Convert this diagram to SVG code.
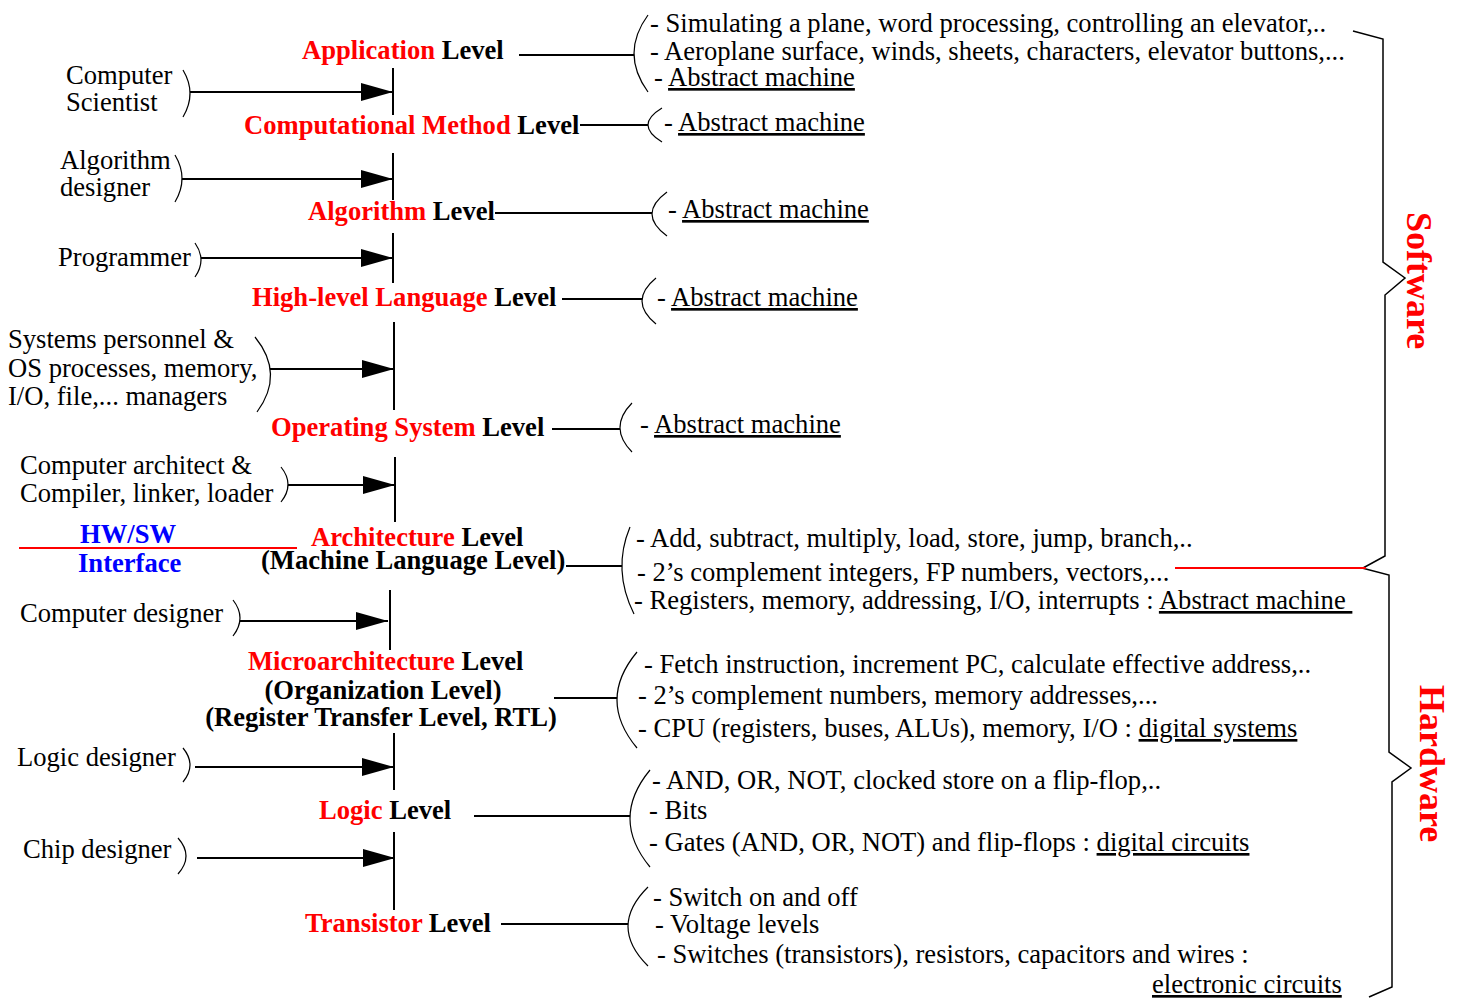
<svg xmlns="http://www.w3.org/2000/svg" width="1458" height="998" viewBox="0 0 1458 998">
  <style>
    text { font-family: "Liberation Serif", "Times New Roman", serif; font-size: 26.6px; fill: #000; }
    .lvl { font-weight: bold; }
    .red { fill: #ff0000; }
    .blue { fill: #0000ff; font-weight: bold; }
    .side { font-weight: bold; font-size: 36px; fill: #ff0000; }
    .u { text-decoration: underline; }
    .wire { stroke: #000; stroke-width: 2; fill: none; }
    .bar { stroke: #000; stroke-width: 2; fill: none; }
    .arrow { stroke: #000; stroke-width: 2.2; fill: none; marker-end: url(#head); }
    .paren { stroke: #000; stroke-width: 1.2; fill: none; }
    .brace { stroke: #000; stroke-width: 1.5; fill: none; }
    .redline { stroke: #ff0000; stroke-width: 2; fill: none; }
  </style>
  <defs>
    <marker id="head" markerUnits="userSpaceOnUse" markerWidth="32" markerHeight="18" refX="32" refY="9" orient="auto">
      <path d="M0,0 L32,9 L0,18 Z" fill="#000"/>
    </marker>
  </defs>
  <rect width="1458" height="998" fill="#fff"/>

  <!-- roles feeding each level -->
  <g id="role-computer-scientist">
    <text x="66" y="84">Computer</text>
    <text x="66" y="111">Scientist</text>
    <path class="paren" d="M183 70 Q197 93.5 183 117"/>
  </g>
  <g id="role-algorithm-designer">
    <text x="60" y="169">Algorithm</text>
    <text x="60" y="196">designer</text>
    <path class="paren" d="M175 155 Q189 178.5 175 202"/>
  </g>
  <g id="role-programmer">
    <text x="58" y="266">Programmer</text>
    <path class="paren" d="M195 243 Q207 260 195 277"/>
  </g>
  <g id="role-systems">
    <text x="8" y="348">Systems personnel &amp;</text>
    <text x="8" y="377">OS processes, memory,</text>
    <text x="8" y="405">I/O, file,... managers</text>
    <path class="paren" d="M255 337 Q285 374 257 412"/>
  </g>
  <g id="role-architect">
    <text x="20" y="474">Computer architect &amp;</text>
    <text x="20" y="502">Compiler, linker, loader</text>
    <path class="paren" d="M281 467 Q295 484.5 281 502"/>
  </g>
  <g id="hw-sw-interface">
    <text class="blue" x="80" y="543">HW/SW</text>
    <text class="blue" x="78" y="572">Interface</text>
    <line class="redline" x1="19" y1="548" x2="297" y2="548"/>
  </g>
  <g id="role-computer-designer">
    <text x="20" y="622">Computer designer</text>
    <path class="paren" d="M233 600 Q247 618 233 636"/>
  </g>
  <g id="role-logic-designer">
    <text x="17" y="766">Logic designer</text>
    <path class="paren" d="M183 748 Q197 765 183 782"/>
  </g>
  <g id="role-chip-designer">
    <text x="23" y="858">Chip designer</text>
    <path class="paren" d="M178 838 Q194 856 178 874"/>
  </g>

  <!-- abstraction levels -->
  <g id="level-application">
    <text class="lvl" x="302" y="59"><tspan class="red">Application</tspan> Level</text>
  </g>
  <g id="level-computational-method">
    <text class="lvl" x="244" y="134"><tspan class="red">Computational Method</tspan> Level</text>
  </g>
  <g id="level-algorithm">
    <text class="lvl" x="308" y="220"><tspan class="red">Algorithm</tspan> Level</text>
  </g>
  <g id="level-hll">
    <text class="lvl" x="252" y="306"><tspan class="red">High-level Language</tspan> Level</text>
  </g>
  <g id="level-os">
    <text class="lvl" x="271" y="436"><tspan class="red">Operating System</tspan> Level</text>
  </g>
  <g id="level-architecture">
    <text class="lvl" x="311" y="546"><tspan class="red">Architecture</tspan> Level</text>
    <text class="lvl" x="261" y="569">(Machine Language Level)</text>
  </g>
  <g id="level-microarchitecture">
    <text class="lvl" x="248" y="670"><tspan class="red">Microarchitecture</tspan> Level</text>
    <text class="lvl" x="383" y="699" text-anchor="middle">(Organization Level)</text>
    <text class="lvl" x="381" y="726" text-anchor="middle">(Register Transfer Level, RTL)</text>
  </g>
  <g id="level-logic">
    <text class="lvl" x="319" y="819"><tspan class="red">Logic</tspan> Level</text>
  </g>
  <g id="level-transistor">
    <text class="lvl" x="305" y="932"><tspan class="red">Transistor</tspan> Level</text>
  </g>

  <!-- descriptions of each level -->
  <g id="desc-application">
    <path class="paren" d="M648 15 Q620 53.5 648 92"/>
    <text x="650" y="32">- Simulating a plane, word processing, controlling an elevator,..</text>
    <text x="650" y="60">- Aeroplane surface, winds, sheets, characters, elevator buttons,...</text>
    <text x="654" y="86">- <tspan class="u">Abstract machine</tspan></text>
  </g>
  <g id="desc-computational-method">
    <path class="paren" d="M662 108 Q634 125 662 142"/>
    <text x="664" y="131">- <tspan class="u">Abstract machine</tspan></text>
  </g>
  <g id="desc-algorithm">
    <path class="paren" d="M667 192 Q637 214 667 236"/>
    <text x="668" y="218">- <tspan class="u">Abstract machine</tspan></text>
  </g>
  <g id="desc-hll">
    <path class="paren" d="M656 278 Q628 301 656 324"/>
    <text x="657" y="306">- <tspan class="u">Abstract machine</tspan></text>
  </g>
  <g id="desc-os">
    <path class="paren" d="M632 403 Q608 427.5 632 452"/>
    <text x="640" y="433">- <tspan class="u">Abstract machine</tspan></text>
  </g>
  <g id="desc-architecture">
    <path class="paren" d="M630 527 Q612 570 634 614"/>
    <text x="636" y="547">- Add, subtract, multiply, load, store, jump, branch,..</text>
    <text x="637" y="581">- 2’s complement integers, FP numbers, vectors,...</text>
    <text x="634" y="609">- Registers, memory, addressing, I/O, interrupts : <tspan class="u">Abstract machine&#160;</tspan></text>
  </g>
  <g id="desc-microarchitecture">
    <path class="paren" d="M637 652 Q597 700 637 748"/>
    <text x="644" y="673">- Fetch instruction, increment PC, calculate effective address,..</text>
    <text x="638" y="704">- 2’s complement numbers, memory addresses,...</text>
    <text x="638" y="737">- CPU (registers, buses, ALUs), memory, I/O : <tspan class="u">digital systems</tspan></text>
  </g>
  <g id="desc-logic">
    <path class="paren" d="M650 770 Q610 818.5 650 867"/>
    <text x="652" y="789">- AND, OR, NOT, clocked store on a flip-flop,..</text>
    <text x="649" y="819">- Bits</text>
    <text x="649" y="851">- Gates (AND, OR, NOT) and flip-flops : <tspan class="u">digital circuits</tspan></text>
  </g>
  <g id="desc-transistor">
    <path class="paren" d="M648 887 Q608 926.5 648 966"/>
    <text x="653" y="906">- Switch on and off</text>
    <text x="655" y="933">- Voltage levels</text>
    <text x="657" y="963">- Switches (transistors), resistors, capacitors and wires :</text>
    <text class="u" x="1152" y="993">electronic circuits</text>
  </g>

  <!-- software / hardware grouping braces -->
  <g id="software">
    <path class="brace" d="M1353 31 L1383 39 L1383 262 L1405 278 L1385 295 L1385 556 L1363 568"/>
    <text class="side" transform="translate(1407 212) rotate(90)">Software</text>
  </g>
  <g id="hardware">
    <path class="brace" d="M1362 568 L1389 575 L1389 752 L1411 768 L1392 782 L1392 987 L1369 997"/>
    <text class="side" transform="translate(1420 685) rotate(90)">Hardware</text>
  </g>
  <line id="sw-hw-divider" class="redline" x1="1175" y1="568" x2="1366" y2="568"/>

  <!-- connectors -->
  <g id="connectors">
    <!-- level-to-description leaders -->
    <line class="wire" x1="519" y1="55" x2="634" y2="55"/>
    <line class="wire" x1="580" y1="125" x2="648" y2="125"/>
    <line class="wire" x1="495" y1="213" x2="652" y2="213"/>
    <line class="wire" x1="562" y1="299" x2="642" y2="299"/>
    <line class="wire" x1="552" y1="429" x2="620" y2="429"/>
    <line class="wire" x1="566" y1="566" x2="622" y2="566"/>
    <line class="wire" x1="554" y1="698" x2="617" y2="698"/>
    <line class="wire" x1="474" y1="816" x2="630" y2="816"/>
    <line class="wire" x1="501" y1="924" x2="628" y2="924"/>
    <!-- spine between levels -->
    <line class="bar" x1="393" y1="68" x2="393" y2="115"/>
    <line class="bar" x1="393" y1="153" x2="393" y2="200"/>
    <line class="bar" x1="393" y1="233" x2="393" y2="283"/>
    <line class="bar" x1="394" y1="322" x2="394" y2="410"/>
    <line class="bar" x1="395" y1="457" x2="395" y2="522"/>
    <line class="bar" x1="390" y1="590" x2="390" y2="650"/>
    <line class="bar" x1="394" y1="733" x2="394" y2="790"/>
    <line class="bar" x1="394" y1="832" x2="394" y2="910"/>
    <!-- role arrows -->
    <line class="arrow" x1="190" y1="92" x2="393" y2="92"/>
    <line class="arrow" x1="182" y1="179" x2="393" y2="179"/>
    <line class="arrow" x1="201" y1="258" x2="393" y2="258"/>
    <line class="arrow" x1="270" y1="369" x2="394" y2="369"/>
    <line class="arrow" x1="288" y1="485" x2="395" y2="485"/>
    <line class="arrow" x1="240" y1="621" x2="388" y2="621"/>
    <line class="arrow" x1="195" y1="767" x2="394" y2="767"/>
    <line class="arrow" x1="197" y1="858" x2="395" y2="858"/>
  </g>
</svg>
